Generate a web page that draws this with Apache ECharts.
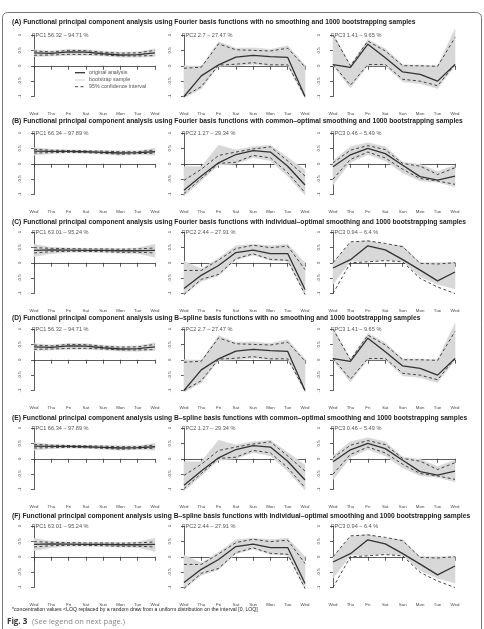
<!DOCTYPE html>
<html>
<head>
<meta charset="utf-8">
<script src="https://cdn.jsdelivr.net/npm/echarts@6/dist/echarts.min.js"></script>
<style>
  html, body { margin: 0; background: #fff; }
  #chart { width: 484px; height: 629px; }
</style>
</head>
<body>
<div id="chart"></div>
<script>
// x 轴：一周（从周三到下一个周三）
const days = ['Wed', 'Thu', 'Fri', 'Sat', 'Sun', 'Mon', 'Tue', 'Wed'];

// Fourier, no smoothing
const a1Est = [0.42, 0.40, 0.45, 0.44, 0.39, 0.35, 0.36, 0.42];
const a1Hi  = [0.48, 0.45, 0.50, 0.49, 0.44, 0.41, 0.42, 0.50];
const a1Lo  = [0.34, 0.35, 0.37, 0.37, 0.35, 0.32, 0.32, 0.33];
const a1Max = [0.52, 0.48, 0.53, 0.52, 0.47, 0.44, 0.45, 0.55];
const a1Min = [0.30, 0.32, 0.34, 0.34, 0.32, 0.28, 0.28, 0.30];

const a2Est = [-1.00, -0.33, 0.03, 0.28, 0.34, 0.30, 0.27, -1.00];
const a2Hi  = [-0.08, -0.05, 0.71, 0.52, 0.50, 0.48, 0.57, -0.04];
const a2Lo  = [-1.00, -0.68, 0.02, 0.05, 0.10, 0.03, 0.03, -1.00];
const a2Max = [0.00, -0.02, 0.78, 0.57, 0.58, 0.53, 0.65, 0.02];
const a2Min = [-1.05, -0.75, -0.02, 0.00, 0.05, 0.00, 0.00, -1.05];

const a3Est = [0.04, -0.05, 0.70, 0.26, -0.20, -0.28, -0.50, 0.04];
const a3Hi  = [1.00, 0.00, 0.80, 0.48, 0.00, 0.00, -0.02, 0.92];
const a3Lo  = [0.04, -0.63, 0.04, 0.04, -0.44, -0.50, -0.65, 0.04];
const a3Max = [1.05, 0.02, 0.85, 0.55, 0.03, 0.02, 0.00, 1.18];
const a3Min = [0.00, -0.72, 0.00, 0.00, -0.52, -0.58, -0.74, 0.00];

// Fourier, common-optimal smoothing
const b1Est = [0.41, 0.40, 0.40, 0.39, 0.37, 0.35, 0.36, 0.39];
const b1Hi  = [0.47, 0.44, 0.43, 0.42, 0.41, 0.39, 0.39, 0.45];
const b1Lo  = [0.35, 0.36, 0.37, 0.36, 0.34, 0.31, 0.33, 0.34];
const b1Max = [0.52, 0.47, 0.45, 0.44, 0.43, 0.42, 0.42, 0.50];
const b1Min = [0.28, 0.33, 0.35, 0.34, 0.31, 0.28, 0.30, 0.28];

const b2Est = [-0.86, -0.40, 0.03, 0.30, 0.43, 0.38, -0.08, -0.69];
const b2Hi  = [-0.54, -0.18, 0.27, 0.38, 0.48, 0.55, 0.09, -0.40];
const b2Lo  = [-0.97, -0.48, 0.01, 0.05, 0.27, 0.19, -0.29, -0.94];
const b2Max = [-0.10, -0.10, 0.60, 0.45, 0.55, 0.60, 0.20, -0.20];
const b2Min = [-1.05, -0.55, -0.05, 0.00, 0.20, 0.10, -0.40, -1.02];

const b3Est = [-0.10, 0.29, 0.50, 0.33, -0.05, -0.42, -0.53, -0.40];
const b3Hi  = [0.03, 0.44, 0.59, 0.46, 0.01, -0.08, -0.35, -0.13];
const b3Lo  = [-0.50, 0.14, 0.38, 0.19, -0.18, -0.48, -0.56, -0.67];
const b3Max = [0.10, 0.55, 0.68, 0.55, 0.05, -0.02, -0.25, -0.05];
const b3Min = [-0.68, 0.05, 0.30, 0.10, -0.30, -0.55, -0.60, -0.75];

// Fourier, individual-optimal smoothing
const c1Est = [0.40, 0.42, 0.41, 0.40, 0.40, 0.39, 0.39, 0.40];
const c1Hi  = [0.49, 0.47, 0.46, 0.45, 0.45, 0.44, 0.45, 0.48];
const c1Lo  = [0.32, 0.36, 0.37, 0.37, 0.36, 0.34, 0.34, 0.32];
const c1Max = [0.60, 0.50, 0.48, 0.47, 0.47, 0.46, 0.48, 0.60];
const c1Min = [0.20, 0.30, 0.34, 0.34, 0.33, 0.31, 0.30, 0.18];

const c2Est = [-0.84, -0.41, -0.09, 0.33, 0.41, 0.30, 0.30, -0.87];
const c2Hi  = [-0.25, -0.25, 0.09, 0.46, 0.57, 0.49, 0.54, -0.22];
const c2Lo  = [-1.03, -0.54, -0.38, 0.13, 0.29, 0.11, 0.08, -1.03];
const c2Max = [0.05, -0.20, 0.15, 0.55, 0.60, 0.55, 0.60, 0.00];
const c2Min = [-1.05, -0.60, -0.42, 0.10, 0.25, 0.08, 0.05, -1.05];

const c3Est = [-0.17, 0.10, 0.55, 0.42, 0.10, -0.24, -0.59, -0.30];
const c3Hi  = [0.00, 0.68, 0.71, 0.63, 0.52, -0.02, -0.04, 0.00];
const c3Lo  = [-1.00, 0.00, 0.03, 0.07, 0.03, -0.51, -0.79, -1.00];
const c3Max = [0.00, 0.65, 0.72, 0.60, 0.55, 0.00, 0.00, 0.02];
const c3Min = [-0.70, 0.05, 0.05, 0.08, 0.05, -0.45, -0.70, -0.85];

const rowTitles = [
  '(A) Functional principal component analysis using Fourier basis functions with no smoothing and 1000 bootstrapping samples',
  '(B) Functional principal component analysis using Fourier basis functions with common–optimal smoothing and 1000 bootstrapping samples',
  '(C) Functional principal component analysis using Fourier basis functions with individual–optimal smoothing and 1000 bootstrapping samples',
  '(D) Functional principal component analysis using B–spline basis functions with no smoothing and 1000 bootstrapping samples',
  '(E) Functional principal component analysis using B–spline basis functions with common–optimal smoothing and 1000 bootstrapping samples',
  '(F) Functional principal component analysis using B–spline basis functions with individual–optimal smoothing and 1000 bootstrapping samples'
];
const noSmoothLabels = ['FPC1 56.32 – 94.71 %', 'FPC2 2.7 – 27.47 %', 'FPC3 1.41 – 9.65 %'];
const commonLabels = ['FPC1 66.34 – 97.89 %', 'FPC2 1.27 – 29.34 %', 'FPC3 0.46 – 5.49 %'];
const indivLabels = ['FPC1 63.01 – 95.24 %', 'FPC2 2.44 – 27.91 %', 'FPC3 0.94 – 6.4 %'];

// B-spline 行和 Fourier 行的曲线几乎一样
const noSmooth = [
  { est: a1Est, hi: a1Hi, lo: a1Lo, max: a1Max, min: a1Min },
  { est: a2Est, hi: a2Hi, lo: a2Lo, max: a2Max, min: a2Min },
  { est: a3Est, hi: a3Hi, lo: a3Lo, max: a3Max, min: a3Min }
];
const commonOpt = [
  { est: b1Est, hi: b1Hi, lo: b1Lo, max: b1Max, min: b1Min },
  { est: b2Est, hi: b2Hi, lo: b2Lo, max: b2Max, min: b2Min },
  { est: b3Est, hi: b3Hi, lo: b3Lo, max: b3Max, min: b3Min }
];
const indivOpt = [
  { est: c1Est, hi: c1Hi, lo: c1Lo, max: c1Max, min: c1Min },
  { est: c2Est, hi: c2Hi, lo: c2Lo, max: c2Max, min: c2Min },
  { est: c3Est, hi: c3Hi, lo: c3Lo, max: c3Max, min: c3Min }
];
const rows = [noSmooth, commonOpt, indivOpt, noSmooth, commonOpt, indivOpt];
const rowLabels = [noSmoothLabels, commonLabels, indivLabels, noSmoothLabels, commonLabels, indivLabels];

// 布局
const rowTop = [35, 133, 232, 329, 428, 526];
const titleY = [22, 121, 222, 318, 418, 516];
const colLeft = [34, 184, 333];
const colRight = [155, 305, 455];
const plotH = 61.5;
const ink = '#333';
const bandColor = '#d8d8d8';
const font = '"Liberation Sans", Arial, sans-serif';

const pts = arr => arr.map((v, i) => [i, v]);

// 灰色带的每一段: [x, min, max, 下一点 min, 下一点 max]
const bandSegs = (mn, mx) => mn.slice(0, -1).map((v, i) => [i, v, mx[i], mn[i + 1], mx[i + 1]]);

function renderBand(params, api) {
  const x = api.value(0);
  const a = api.coord([x, api.value(1)]);
  const b = api.coord([x + 1, api.value(3)]);
  const c = api.coord([x + 1, api.value(4)]);
  const d = api.coord([x, api.value(2)]);
  return {
    type: 'polygon',
    shape: { points: [a, b, c, d] },
    style: { fill: bandColor, stroke: bandColor, lineWidth: 0.6 }
  };
}

const chart = echarts.init(document.getElementById('chart'), null, { renderer: 'canvas' });

const grids = [], xAxes = [], yAxes = [], series = [], graphics = [];

graphics.push({
  type: 'rect', silent: true,
  shape: { x: 2.5, y: 12.5, width: 479, height: 650, r: 5 },
  style: { fill: 'none', stroke: '#777', lineWidth: 1 }
});

rows.forEach((row, r) => {
  graphics.push({
    type: 'text', silent: true,
    style: {
      x: 12, y: titleY[r], text: rowTitles[r],
      fontSize: 6.7, fontWeight: 'bold', fontFamily: font,
      fill: '#222', verticalAlign: 'middle'
    }
  });
  row.forEach((p, c) => {
    const g = grids.length;
    grids.push({
      left: colLeft[c], top: rowTop[r],
      width: colRight[c] - colLeft[c], height: plotH
    });
    xAxes.push({
      gridIndex: g, type: 'value', min: 0, max: 7, interval: 1,
      offset: 3.5,
      axisLine: { lineStyle: { color: ink, width: 0.8 } },
      axisTick: { length: 4, lineStyle: { color: ink, width: 0.8 } },
      axisLabel: { formatter: v => days[v], fontSize: 4.4, color: '#444', margin: 11.5, fontFamily: font },
      splitLine: { show: false }
    });
    yAxes.push({
      gridIndex: g, type: 'value', min: -1, max: 1, interval: 0.5,
      offset: 5,
      axisLine: { show: true, lineStyle: { color: ink, width: 0.8 } },
      axisTick: { show: true, length: 3, lineStyle: { color: ink, width: 0.8 } },
      axisLabel: { rotate: 90, fontSize: 4.4, color: '#444', margin: 7, fontFamily: font },
      splitLine: { show: false }
    });
    // 灰色带：bootstrap 样本的范围
    series.push({
      type: 'custom', xAxisIndex: g, yAxisIndex: g,
      data: bandSegs(p.min, p.max),
      renderItem: renderBand,
      encode: { x: 0, y: [1, 2] },
      silent: true, z: 1
    });
    const base = { xAxisIndex: g, yAxisIndex: g, type: 'line', symbol: 'none', clip: false, silent: true, z: 3 };
    // 95% 置信区间（虚线）
    [p.hi, p.lo].forEach(arr => {
      series.push(Object.assign({}, base, {
        data: pts(arr),
        lineStyle: { color: ink, width: 0.9, type: [3, 2.5] }
      }));
    });
    // 原始分析（实线）
    series.push(Object.assign({}, base, {
      data: pts(p.est),
      lineStyle: { color: '#333', width: 1.3 }
    }));
    graphics.push({
      type: 'text', silent: true,
      style: {
        x: colLeft[c] - 2, y: rowTop[r], text: rowLabels[r][c],
        fontSize: 5.6, fontFamily: font, fill: '#555', verticalAlign: 'middle'
      }
    });
  });
});

// 图例（只在 A 行第一张图里）
const legendItems = [
  { name: 'original analysis', y: 72.7, color: '#333', width: 1.3, dash: null },
  { name: 'bootstrap sample', y: 80, color: '#cfcfcf', width: 1, dash: null },
  { name: '95% confidence interval', y: 86.7, color: ink, width: 0.9, dash: [3, 2.5] }
];
legendItems.forEach(it => {
  graphics.push({
    type: 'line', silent: true,
    shape: { x1: 75, y1: it.y, x2: 85, y2: it.y },
    style: { stroke: it.color, lineWidth: it.width, lineDash: it.dash }
  });
  graphics.push({
    type: 'text', silent: true,
    style: { x: 89, y: it.y, text: it.name, fontSize: 5.4, fontFamily: font, fill: '#555', verticalAlign: 'middle' }
  });
});

graphics.push({
  type: 'text', silent: true,
  style: {
    x: 12, y: 610,
    text: '*concentration values <LOQ replaced by a random draw from a uniform distribution on the interval [0, LOQ]',
    fontSize: 5.2, fontFamily: font, fill: '#222', verticalAlign: 'middle'
  }
});
graphics.push({
  type: 'text', silent: true,
  style: { x: 7, y: 622, text: 'Fig. 3', fontSize: 8, fontWeight: 'bold', fontFamily: '"Open Sans", "Noto Sans", sans-serif', fill: '#333', verticalAlign: 'middle' }
});
graphics.push({
  type: 'text', silent: true,
  style: { x: 32, y: 622, text: '(See legend on next page.)', fontSize: 7.6, fontFamily: '"Open Sans", "Noto Sans", sans-serif', fill: '#888', verticalAlign: 'middle' }
});

chart.setOption({
  animation: false,
  backgroundColor: '#fff',
  grid: grids,
  xAxis: xAxes,
  yAxis: yAxes,
  series: series,
  graphic: graphics
});
</script>
</body>
</html>
